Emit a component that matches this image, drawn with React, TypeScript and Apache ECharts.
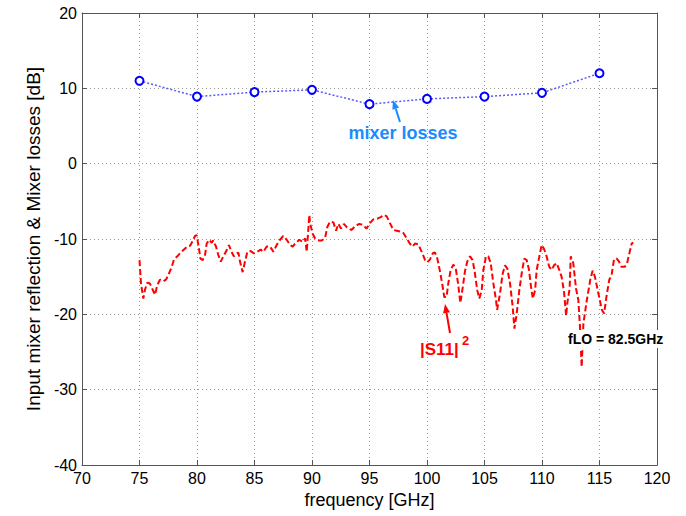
import React, { useEffect, useRef } from "react";
import * as echarts from "echarts";

const lossFreq = [75, 80, 85, 90, 95, 100, 105, 110, 115];
const lossVal = [11.0, 8.9, 9.5, 9.8, 7.9, 8.6, 8.9, 9.4, 12.0];

const s11Freq = [
  75.0, 75.13, 75.33, 75.48, 75.68, 75.9, 76.14, 76.35, 76.55, 76.78, 77.07, 77.3, 77.5, 77.8, 78.0,
  78.29, 78.58, 78.87, 79.16, 79.4, 79.54, 79.83, 79.97, 80.1, 80.3, 80.5, 80.7, 80.84, 81.07, 81.28,
  81.4, 81.65, 81.85, 82.06, 82.29, 82.58, 82.78, 83.0, 83.2, 83.45, 83.6, 83.74, 83.97, 84.17, 84.38,
  84.67, 84.96, 85.24, 85.54, 85.77, 86.06, 86.35, 86.64, 86.93, 87.22, 87.5, 87.8, 88.09, 88.32, 88.6,
  88.9, 89.2, 89.4, 89.54, 89.77, 89.83, 90.06, 90.26, 90.55, 90.84, 91.13, 91.33, 91.57, 91.86, 92.09,
  92.29, 92.52, 92.78, 93.0, 93.3, 93.45, 93.74, 94.1, 94.4, 94.75, 95.04, 95.33, 95.68, 95.97, 96.26,
  96.5, 96.78, 97.07, 97.37, 97.65, 97.94, 98.23, 98.5, 98.75, 98.96, 99.24, 99.45, 99.6, 99.83, 100.03,
  100.26, 100.5, 100.7, 100.9, 101.13, 101.36, 101.5, 101.7, 101.85, 102.06, 102.29, 102.5, 102.7, 102.9,
  103.1, 103.3, 103.5, 103.74, 103.97, 104.17, 104.37, 104.55, 104.76, 104.9, 105.13, 105.33, 105.54,
  105.77, 106.0, 106.1, 106.35, 106.58, 106.78, 106.98, 107.22, 107.45, 107.6, 107.8, 108.03, 108.23,
  108.46, 108.67, 108.87, 109.04, 109.2, 109.4, 109.54, 109.77, 109.97, 110.17, 110.4, 110.63, 110.84,
  111.04, 111.27, 111.5, 111.7, 111.9, 112.1, 112.2, 112.4, 112.5, 112.72, 112.96, 113.16, 113.3,
  113.45, 113.6, 113.9, 114.2, 114.4, 114.6, 114.9, 115.2, 115.4, 115.6, 115.85, 116.05, 116.26, 116.5,
  116.7, 116.9, 117.2, 117.4, 117.6, 117.8, 117.94,
];
const s11Val = [
  -12.8, -15.9, -17.9, -16.7, -15.8, -15.9, -16.7, -17.4, -16.1, -15.4, -15.6, -15.4, -14.8, -13.7, -12.7,
  -12.3, -11.8, -11.4, -11.0, -10.9, -10.5, -9.6, -9.5, -10.6, -12.6, -12.8, -12.1, -10.6, -10.1, -10.5,
  -10.2, -11.0, -12.1, -13.0, -12.3, -11.5, -10.8, -11.7, -12.3, -11.9, -11.8, -13.0, -14.4, -13.0, -11.7,
  -11.6, -11.9, -11.7, -11.4, -11.7, -11.0, -11.0, -11.7, -10.8, -10.1, -9.6, -10.1, -10.8, -11.0, -10.5,
  -10.1, -10.4, -9.9, -11.7, -6.8, -7.9, -9.3, -9.9, -10.2, -10.2, -9.9, -8.4, -7.7, -7.8, -8.9,
  -8.0, -8.6, -8.0, -8.4, -8.7, -8.8, -8.3, -8.0, -8.1, -8.6, -7.9, -7.4, -7.3, -7.1, -6.8,
  -7.0, -7.9, -8.8, -8.9, -9.0, -9.2, -9.9, -10.6, -11.0, -10.6, -10.7, -11.4, -11.9, -12.8, -13.1,
  -12.7, -11.9, -11.8, -12.6, -14.3, -16.3, -17.7, -17.7, -15.9, -14.1, -13.4, -13.9, -15.9, -18.5,
  -16.5, -14.3, -13.0, -12.3, -12.8, -14.6, -16.8, -17.9, -16.8, -14.1, -12.3, -12.3, -13.2,
  -15.9, -18.1, -19.4, -17.2, -14.6, -13.5, -13.9, -15.9, -19.0, -21.9, -19.9, -16.8, -14.6,
  -12.6, -12.8, -14.1, -16.3, -17.9, -16.8, -14.1, -12.3, -10.8, -11.3, -12.3, -13.7, -14.1,
  -13.5, -13.2, -14.1, -15.0, -16.8, -20.2, -18.5, -16.6, -12.3, -13.2, -16.6, -18.1, -21.6,
  -27.0, -21.2, -18.1, -15.4, -14.2, -15.0, -17.2, -19.4, -19.9, -17.7, -15.4, -14.8, -12.7, -12.6,
  -13.0, -13.7, -13.7, -13.2, -11.9, -10.6, -10.5,
];

const xTicks = { min: 70, max: 120, interval: 5 };
const yTicks = { min: -40, max: 20, interval: 10 };

const FONT = "'Liberation Sans', Arial, sans-serif";

function arrow(x1: number, y1: number, x2: number, y2: number, color: string) {
  const dx = x2 - x1;
  const dy = y2 - y1;
  const len = Math.sqrt(dx * dx + dy * dy);
  const ux = dx / len;
  const uy = dy / len;
  const hl = 9;
  const hw = 3.5;
  const bx = x2 - ux * hl;
  const by = y2 - uy * hl;
  return [
    {
      type: "line",
      shape: { x1, y1, x2: bx, y2: by },
      style: { stroke: color, lineWidth: 2 },
      z: 100,
    },
    {
      type: "polygon",
      shape: {
        points: [
          [x2, y2],
          [bx - uy * hw, by + ux * hw],
          [bx + uy * hw, by - ux * hw],
        ],
      },
      style: { fill: color },
      z: 100,
    },
  ];
}

export default function App() {
  const ref = useRef<HTMLDivElement>(null);
  useEffect(() => {
    if (!ref.current) return;
    const chart = echarts.init(ref.current, null, { renderer: "svg" });
    const axisLineStyle = { color: "#555", width: 1 };
    const blue = "#1a8cff";
    chart.setOption({
      animation: false,
      backgroundColor: "#fff",
      grid: { left: 82, right: 29, top: 13, bottom: 51, containLabel: false },
      xAxis: [
        {
          type: "value",
          ...xTicks,
          position: "bottom",
          name: "frequency [GHz]",
          nameLocation: "middle",
          nameGap: 26,
          nameTextStyle: { fontFamily: FONT, fontSize: 18, color: "#000" },
          axisLine: { show: true, onZero: false, lineStyle: axisLineStyle },
          axisTick: { show: true, inside: true, length: 5, lineStyle: axisLineStyle },
          axisLabel: { fontFamily: FONT, fontSize: 16, color: "#000", margin: 5 },
          splitLine: { show: true, lineStyle: { color: "#999", type: [1, 3], width: 1 } },
        },
        {
          type: "value",
          ...xTicks,
          position: "top",
          axisLine: { show: true, onZero: false, lineStyle: axisLineStyle },
          axisTick: { show: true, inside: true, length: 5, lineStyle: axisLineStyle },
          axisLabel: { show: false },
          splitLine: { show: false },
        },
      ],
      yAxis: [
        {
          type: "value",
          ...yTicks,
          position: "left",
          name: "Input mixer reflection & Mixer losses [dB]",
          nameLocation: "middle",
          nameRotate: 90,
          nameGap: 39,
          nameTextStyle: { fontFamily: FONT, fontSize: 19, color: "#000" },
          axisLine: { show: true, onZero: false, lineStyle: axisLineStyle },
          axisTick: { show: true, inside: true, length: 5, lineStyle: axisLineStyle },
          axisLabel: { fontFamily: FONT, fontSize: 16, color: "#000", margin: 5 },
          splitLine: { show: true, lineStyle: { color: "#999", type: [1, 3], width: 1 } },
        },
        {
          type: "value",
          ...yTicks,
          position: "right",
          axisLine: { show: true, onZero: false, lineStyle: axisLineStyle },
          axisTick: { show: true, inside: true, length: 5, lineStyle: axisLineStyle },
          axisLabel: { show: false },
          splitLine: { show: false },
        },
      ],
      series: [
        {
          type: "line",
          name: "mixer losses",
          data: lossFreq.map((f, i) => [f, lossVal[i]]),
          symbol: "circle",
          symbolSize: 8,
          showSymbol: true,
          itemStyle: { color: "#fff", borderColor: "#0000ff", borderWidth: 2 },
          lineStyle: { color: "#5a5aff", width: 1.5, type: [2, 2] },
          z: 3,
        },
        {
          type: "line",
          name: "|S11|^2",
          data: s11Freq.map((f, i) => [f, s11Val[i]]),
          showSymbol: false,
          symbol: "none",
          lineStyle: { color: "#ff0000", width: 2, type: [6, 3] },
          z: 2,
        },
      ],
      graphic: [
        ...arrow(400, 122, 393, 100, blue),
        {
          type: "text",
          x: 403,
          y: 133,
          style: {
            text: "mixer losses",
            font: `bold 18px ${FONT}`,
            fill: blue,
            align: "center",
            verticalAlign: "middle",
          },
          z: 100,
        },
        ...arrow(450, 333, 445, 304, "#ff0000"),
        {
          type: "text",
          x: 420,
          y: 349,
          style: {
            text: "|S11|",
            font: `bold 17px ${FONT}`,
            fill: "#ff0000",
            align: "left",
            verticalAlign: "middle",
          },
          z: 100,
        },
        {
          type: "text",
          x: 462,
          y: 340,
          style: {
            text: "2",
            font: `bold 13px ${FONT}`,
            fill: "#ff0000",
            align: "left",
            verticalAlign: "middle",
          },
          z: 100,
        },
        {
          type: "text",
          x: 567,
          y: 339,
          style: {
            text: "fLO = 82.5GHz",
            font: `bold 14px ${FONT}`,
            fill: "#000",
            align: "left",
            verticalAlign: "middle",
            backgroundColor: "#fff",
            padding: [2, 1, 2, 1],
          },
          z: 100,
        },
      ],
    });
    return () => chart.dispose();
  }, []);
  return (
    <div
      ref={ref}
      style={{ position: "absolute", left: 0, top: 0, width: 686, height: 516 }}
    />
  );
}
